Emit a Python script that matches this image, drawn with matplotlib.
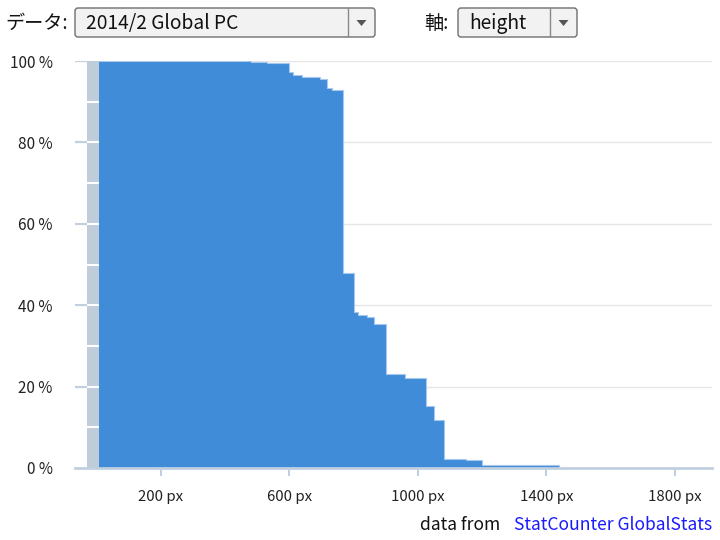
import numpy as np
import matplotlib
matplotlib.use("Agg")
import matplotlib.pyplot as plt
from matplotlib.patches import FancyBboxPatch, Polygon, Rectangle

plt.rcParams['font.family'] = ['Noto Sans CJK JP', 'DejaVu Sans']

# screen height (px) where each step starts, and share (%) of screens at least that tall
step_x = [8, 480, 530, 575, 600, 612, 638, 695, 718, 733, 768, 800, 814, 840, 864,
          900, 960, 1024, 1050, 1080, 1151, 1200, 1440]
step_y = [100.0, 99.8, 99.6, 99.5, 97.3, 96.6, 96.1, 95.7, 93.3, 92.9, 47.8, 38.3, 37.6,
          37.2, 35.3, 23.1, 22.0, 15.3, 11.8, 2.1, 2.0, 0.7, 0.0]
x_ticks = [200, 600, 1000, 1400, 1800]
y_ticks = [0, 20, 40, 60, 80, 100]
data_label = "2014/2 Global PC"
axis_label = "height"

W, H = 720, 540
fig = plt.figure(figsize=(W / 100, H / 100), dpi=100)

# plot area in pixels: left 75, right 712, y=0% at 468, y=100% at 61
left, right, bottom, top = 75, 712, 468, 61
ax = fig.add_axes([left / W, (H - bottom) / H, (right - left) / W, (bottom - top) / H])
ax.set_xlim(-67, 1915)
ax.set_ylim(0, 100)
for s in ax.spines.values():
    s.set_visible(False)

# grid
for yv in y_ticks[1:]:
    ax.axhline(yv, color='#e6e6e6', lw=1, zorder=0)
    ax.hlines(yv, -67, -30, color='#c0d0e0', lw=1.5, zorder=1)

# gray band at the left of the area
ax.add_patch(Rectangle((-30, 0), 38, 100, facecolor='#bfccda', edgecolor='none', zorder=1))
for yv in np.arange(10, 100, 10):
    ax.hlines(yv, -30, 8, color='white', lw=1.5, zorder=2)

# cumulative area
xs = step_x + [1915]
ys = step_y + [0.0]
ax.fill_between(xs, ys, step='post', color='#3686d6', alpha=0.95, lw=0, zorder=3)
ax.step(xs, ys, where='post', color='#a6c8ee', lw=0.8, zorder=4)

# baseline
ax.axhline(0, color='#c0d0e0', lw=2, zorder=5, clip_on=False)

ax.set_xticks(x_ticks)
ax.set_xticklabels([f"{v} px" for v in x_ticks], fontsize=10.8, color='#222222',
                   family=['Noto Sans CJK JP', 'DejaVu Sans'])
ax.set_yticks(y_ticks)
ax.set_yticklabels([f"{v} %" for v in y_ticks], fontsize=11, color='#222222',
                   family=['Noto Sans CJK JP', 'DejaVu Sans'])
ax.tick_params(axis='x', length=6, width=1.5, color='#c0d0e0', pad=10, direction='out')
ax.tick_params(axis='y', length=0, pad=16)

# overlay in pixel coordinates for the controls and the footer
ui = fig.add_axes([0, 0, 1, 1], zorder=10)
ui.set_xlim(0, W)
ui.set_ylim(H, 0)
ui.axis('off')
ui.patch.set_alpha(0)


def combo(x0, x1, div, label, y0=8, y1=37):
    ui.add_patch(FancyBboxPatch((x0, y0), x1 - x0, y1 - y0,
                                boxstyle="round,pad=0,rounding_size=3",
                                facecolor='#f2f2f2', edgecolor='#6e6e6e', lw=1))
    ui.plot([div, div], [y0 + 1, y1 - 1], color='#8a8a8a', lw=1)
    cx = (div + x1) / 2
    ui.add_patch(Polygon([(cx - 5, 20), (cx + 5, 20), (cx, 26)], closed=True,
                         facecolor='#555555', edgecolor='none'))
    ui.text(x0 + 11, 23, label, fontsize=13.8, va='center', ha='left', color='#111111')


ui.text(5, 23, "データ:", fontsize=13.8, va='center', ha='left', color='#111111')
combo(75, 375, 348, data_label)
ui.text(424, 23, "軸:", fontsize=13.8, va='center', ha='left', color='#111111')
combo(458, 577, 550, axis_label)

ui.text(500, 525, "data from", fontsize=12.6, va='center', ha='right', color='#111111')
ui.text(712, 525, "StatCounter GlobalStats", fontsize=12.6, va='center', ha='right',
        color='#1a1aff')

fig.savefig("out.png", dpi=100)
